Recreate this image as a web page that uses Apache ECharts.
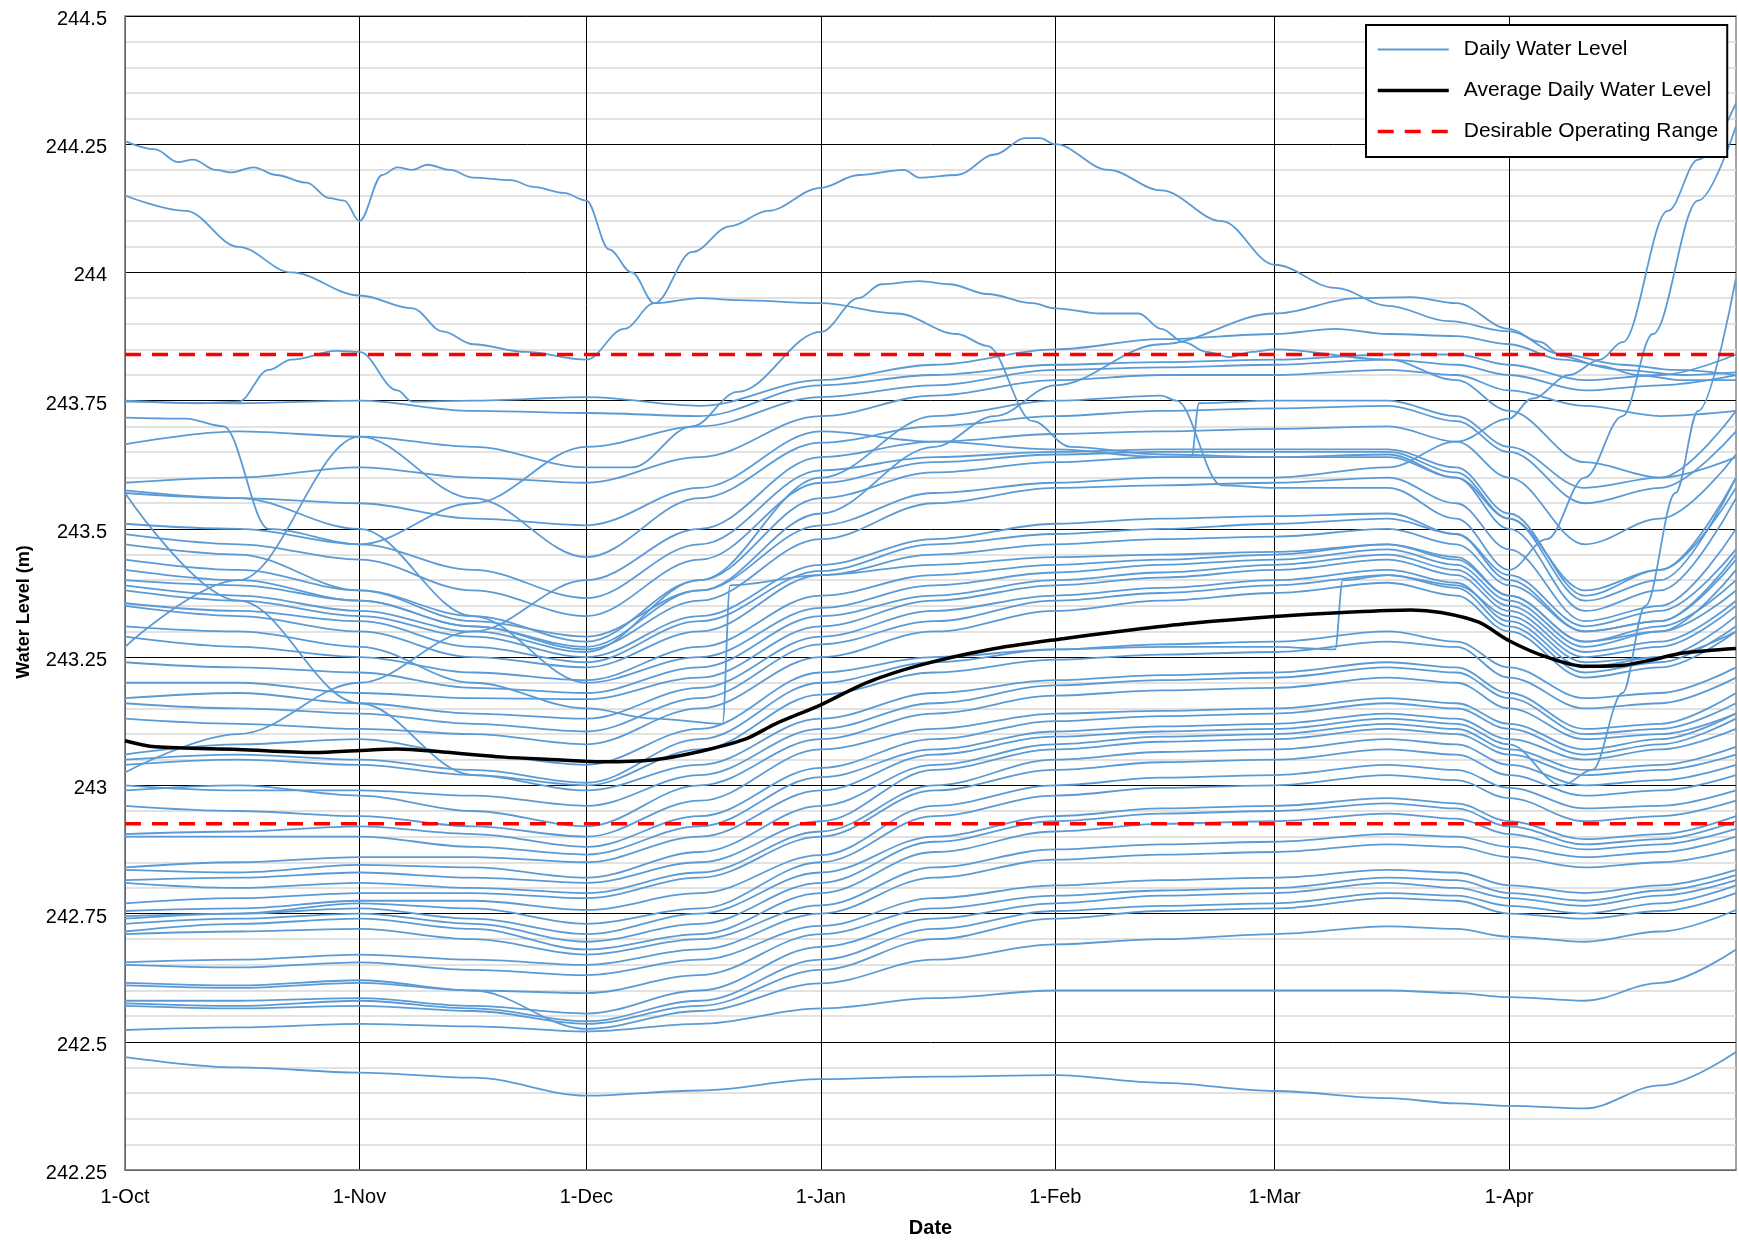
<!DOCTYPE html>
<html>
<head>
<meta charset="utf-8">
<title>Daily Water Level</title>
<script src="https://cdn.jsdelivr.net/npm/echarts@6/dist/echarts.min.js"></script>
<style>
  html, body { margin: 0; padding: 0; background: #fff; }
  #chart { width: 1739px; height: 1243px; }
</style>
</head>
<body>
<div id="chart"></div>
<script>
// Days are counted from 1 October (day 0); the season runs to 1 May (day 213).
const MONTH_STARTS = [0, 31, 61, 92, 123, 152, 183];
const MONTH_LABELS = ['1-Oct', '1-Nov', '1-Dec', '1-Jan', '1-Feb', '1-Mar', '1-Apr'];

// Desirable operating range (m)
const RANGE_UPPER = 243.84;
const RANGE_LOWER = 242.925;

// Sampling days used by the regular daily traces below
const SAMPLE_DAYS = [0, 15, 31, 46, 61, 76, 92, 107, 123, 137, 152, 167, 176, 183, 193, 203, 213];

// Daily water level traces, one per year (values at SAMPLE_DAYS)
const daily01 = [242.47, 242.45, 242.44, 242.43, 242.395, 242.405, 242.427, 242.432, 242.435, 242.42, 242.404, 242.39, 242.38, 242.375, 242.37, 242.415, 242.48];
const daily02 = [242.523, 242.528, 242.535, 242.53, 242.52, 242.535, 242.565, 242.585, 242.6, 242.6, 242.6, 242.6, 242.595, 242.587, 242.58, 242.615, 242.68];
const daily03 = [242.61, 242.605, 242.615, 242.6, 242.525, 242.56, 242.614, 242.66, 242.69, 242.7, 242.71, 242.725, 242.72, 242.705, 242.695, 242.715, 242.757];
const daily04 = [242.57, 242.565, 242.57, 242.56, 242.535, 242.57, 242.64, 242.7, 242.74, 242.755, 242.76, 242.78, 242.775, 242.75, 242.74, 242.755, 242.79];
const daily05 = [242.575, 242.57, 242.58, 242.565, 242.54, 242.58, 242.66, 242.72, 242.755, 242.765, 242.77, 242.79, 242.785, 242.765, 242.75, 242.77, 242.805];
const daily06 = [242.58, 242.58, 242.585, 242.57, 242.555, 242.6, 242.685, 242.74, 242.77, 242.785, 242.79, 242.81, 242.8, 242.78, 242.765, 242.785, 242.815];
const daily07 = [242.615, 242.61, 242.62, 242.6, 242.595, 242.63, 242.71, 242.76, 242.785, 242.795, 242.8, 242.82, 242.815, 242.79, 242.775, 242.795, 242.825];
const daily08 = [242.65, 242.645, 242.655, 242.64, 242.63, 242.66, 242.726, 242.78, 242.805, 242.815, 242.82, 242.835, 242.83, 242.805, 242.79, 242.805, 242.835];
const daily09 = [242.655, 242.66, 242.67, 242.66, 242.65, 242.68, 242.75, 242.82, 242.855, 242.865, 242.87, 242.885, 242.88, 242.86, 242.84, 242.85, 242.875];
const daily10 = [242.71, 242.715, 242.72, 242.7, 242.67, 242.7, 242.766, 242.84, 242.875, 242.885, 242.89, 242.905, 242.9, 242.88, 242.86, 242.87, 242.9];
const daily11 = [242.715, 242.73, 242.74, 242.72, 242.68, 242.71, 242.79, 242.87, 242.91, 242.925, 242.93, 242.945, 242.935, 242.905, 242.875, 242.885, 242.915];
const daily12 = [242.73, 242.74, 242.75, 242.73, 242.695, 242.73, 242.81, 242.89, 242.93, 242.945, 242.95, 242.965, 242.955, 242.92, 242.885, 242.895, 242.93];
const daily13 = [242.74, 242.75, 242.76, 242.74, 242.71, 242.75, 242.83, 242.9, 242.94, 242.955, 242.96, 242.975, 242.965, 242.93, 242.895, 242.905, 242.94];
const daily14 = [242.745, 242.75, 242.77, 242.76, 242.73, 242.76, 242.85, 242.94, 242.98, 242.995, 243.0, 243.02, 243.01, 242.975, 242.93, 242.94, 242.97];
const daily15 = [242.755, 242.76, 242.775, 242.775, 242.757, 242.79, 242.864, 242.96, 243.0, 243.015, 243.02, 243.04, 243.03, 242.995, 242.955, 242.96, 242.99];
const daily16 = [242.77, 242.78, 242.79, 242.79, 242.78, 242.82, 242.9, 242.99, 243.03, 243.045, 243.05, 243.07, 243.06, 243.02, 242.98, 242.99, 243.02];
const daily17 = [242.81, 242.8, 242.81, 242.8, 242.79, 242.83, 242.91, 243.0, 243.05, 243.065, 243.07, 243.09, 243.08, 243.04, 243.0, 243.01, 243.04];
const daily18 = [242.815, 242.82, 242.83, 242.82, 242.81, 242.85, 242.93, 243.03, 243.07, 243.085, 243.09, 243.11, 243.1, 243.06, 243.02, 243.03, 243.06];
const daily19 = [242.835, 242.83, 242.845, 242.84, 242.82, 242.87, 242.96, 243.04, 243.08, 243.095, 243.1, 243.12, 243.11, 243.07, 243.03, 243.04, 243.075];
const daily21 = [242.9, 242.9, 242.9, 242.88, 242.865, 242.92, 243.016, 243.07, 243.105, 243.115, 243.12, 243.14, 243.13, 243.09, 243.05, 243.07, 243.11];
const daily22 = [242.905, 242.91, 242.92, 242.905, 242.88, 242.94, 243.034, 243.09, 243.125, 243.135, 243.14, 243.16, 243.15, 243.11, 243.06, 243.08, 243.13];
const daily23 = [242.96, 242.95, 242.94, 242.92, 242.9, 242.97, 243.07, 243.11, 243.14, 243.145, 243.15, 243.17, 243.16, 243.12, 243.07, 243.09, 243.14];
const daily24 = [242.99, 243.0, 242.98, 242.95, 242.92, 243.0, 243.09, 243.14, 243.175, 243.185, 243.19, 243.21, 243.2, 243.15, 243.09, 243.1, 243.14];
const daily25 = [243.0, 242.99, 242.99, 242.98, 242.96, 243.02, 243.11, 243.16, 243.195, 243.205, 243.21, 243.23, 243.22, 243.17, 243.1, 243.11, 243.16];
const daily26 = [243.57, 243.36, 243.16, 243.02, 242.99, 243.04, 243.13, 243.18, 243.205, 243.215, 243.22, 243.24, 243.23, 243.18, 243.11, 243.12, 243.18];
const daily27 = [243.04, 243.05, 243.04, 243.02, 243.0, 243.07, 243.177, 243.22, 243.245, 243.255, 243.26, 243.28, 243.27, 243.21, 243.15, 243.16, 243.21];
const daily28 = [243.05, 243.06, 243.05, 243.03, 243.005, 243.09, 243.2, 243.24, 243.265, 243.275, 243.28, 243.3, 243.28, 243.23, 243.17, 243.18, 243.23];
const daily30 = [243.13, 243.12, 243.11, 243.1, 243.08, 243.15, 243.25, 243.3, 243.34, 243.36, 243.375, 243.395, 243.37, 243.3, 243.21, 243.23, 243.3];
const daily31 = [243.16, 243.15, 243.14, 243.12, 243.105, 243.17, 243.275, 243.32, 243.36, 243.375, 243.39, 243.41, 243.385, 243.31, 243.22, 243.24, 243.31];
const daily32 = [243.17, 243.18, 243.16, 243.14, 243.13, 243.19, 243.29, 243.34, 243.37, 243.385, 243.4, 243.42, 243.395, 243.32, 243.23, 243.25, 243.33];
const daily33 = [243.2, 243.2, 243.18, 243.17, 243.168, 243.21, 243.31, 243.36, 243.39, 243.405, 243.42, 243.44, 243.41, 243.34, 243.25, 243.27, 243.35];
const daily34 = [243.24, 243.23, 243.22, 243.19, 243.18, 243.23, 243.33, 243.37, 243.4, 243.415, 243.43, 243.45, 243.42, 243.35, 243.26, 243.28, 243.36];
const daily35 = [243.57, 243.56, 243.5, 243.33, 243.2, 243.25, 243.346, 243.39, 243.415, 243.43, 243.44, 243.46, 243.43, 243.36, 243.27, 243.3, 243.38];
const daily36 = [243.29, 243.27, 243.25, 243.22, 243.205, 243.27, 243.37, 243.41, 243.43, 243.44, 243.45, 243.47, 243.44, 243.37, 243.28, 243.31, 243.4];
const daily38 = [243.35, 243.33, 243.3, 243.25, 243.23, 243.3, 243.41, 243.45, 243.47, 243.48, 243.485, 243.5, 243.47, 243.39, 243.3, 243.32, 243.44];
const daily39 = [243.355, 243.34, 243.32, 243.27, 243.24, 243.32, 243.418, 243.47, 243.49, 243.5, 243.51, 243.52, 243.49, 243.41, 243.31, 243.34, 243.46];
const daily40 = [243.38, 243.36, 243.33, 243.29, 243.25, 243.33, 243.43, 243.48, 243.51, 243.52, 243.525, 243.53, 243.49, 243.4, 243.3, 243.32, 243.45];
const daily42 = [243.4, 243.39, 243.36, 243.31, 243.265, 243.36, 243.48, 243.55, 243.58, 243.585, 243.59, 243.6, 243.55, 243.46, 243.32, 243.35, 243.5];
const daily44 = [243.44, 243.42, 243.38, 243.33, 243.28, 243.4, 243.56, 243.61, 243.63, 243.64, 243.64, 243.64, 243.6, 243.5, 243.34, 243.38, 243.56];
const daily45 = [243.49, 243.47, 243.44, 243.38, 243.33, 243.44, 243.59, 243.63, 243.645, 243.65, 243.65, 243.65, 243.61, 243.52, 243.36, 243.4, 243.6];
const daily46 = [243.51, 243.5, 243.47, 243.42, 243.365, 243.47, 243.614, 243.64, 243.65, 243.655, 243.655, 243.655, 243.62, 243.53, 243.37, 243.42, 243.6];
const daily47 = [243.025, 243.1, 243.2, 243.3, 243.4, 243.5, 243.64, 243.67, 243.685, 243.69, 243.695, 243.7, 243.67, 243.6, 243.47, 243.52, 243.645];
const daily48 = [243.27, 243.4, 243.68, 243.56, 243.445, 243.56, 243.668, 243.7, 243.72, 243.73, 243.735, 243.74, 243.71, 243.65, 243.55, 243.58, 243.69];
const daily50 = [243.59, 243.6, 243.62, 243.6, 243.59, 243.64, 243.72, 243.76, 243.79, 243.8, 243.8, 243.81, 243.8, 243.77, 243.74, 243.72, 243.73];
const daily52 = [243.748, 243.745, 243.75, 243.73, 243.726, 243.72, 243.78, 243.8, 243.82, 243.825, 243.83, 243.84, 243.84, 243.82, 243.79, 243.8, 243.84];

// Traces with their own sampling days: [day, level]
const daily20 = [[0, 242.84], [15, 242.85], [31, 242.86], [46, 242.86], [61, 242.85], [76, 242.9], [92, 242.99], [107, 243.06], [123, 243.095], [137, 243.105], [152, 243.11], [167, 243.13], [176, 243.12], [183, 243.08], [190, 243.0], [194, 243.03], [198, 243.18], [201, 243.35], [205, 243.57], [208, 243.73], [213, 243.99]];
const daily29 = [[0, 243.06], [15, 243.08], [31, 243.09], [46, 243.06], [61, 243.04], [76, 243.11], [92, 243.22], [107, 243.25], [123, 243.265], [137, 243.27], [152, 243.27], [160, 243.265], [161, 243.4], [167, 243.41], [176, 243.39], [183, 243.33], [193, 243.24], [203, 243.25], [213, 243.3]];
const daily37 = [[0, 243.31], [15, 243.3], [31, 243.27], [46, 243.2], [61, 243.15], [70, 243.13], [79, 243.12], [80, 243.39], [92, 243.41], [107, 243.43], [123, 243.445], [137, 243.45], [152, 243.455], [167, 243.47], [176, 243.445], [183, 243.37], [193, 243.28], [203, 243.3], [213, 243.42]];
const daily41 = [[0, 243.39], [15, 243.37], [31, 243.34], [46, 243.3], [61, 243.26], [76, 243.4], [92, 243.6], [107, 243.72], [123, 243.75], [137, 243.76], [139, 243.75], [145, 243.585], [152, 243.58], [167, 243.58], [176, 243.52], [183, 243.42], [188, 243.48], [193, 243.6], [198, 243.72], [202, 243.88], [208, 244.14], [213, 244.285]];
const daily43 = [[0, 243.42], [15, 243.4], [31, 243.36], [46, 243.31], [61, 243.27], [76, 243.38], [92, 243.507], [107, 243.57], [123, 243.59], [137, 243.6], [152, 243.6], [167, 243.62], [176, 243.67], [183, 243.715], [186, 243.754], [191, 243.8], [195, 243.83], [198, 243.864], [204, 244.12], [208, 244.22], [213, 244.33]];
const daily49 = [[0, 243.575], [15, 243.56], [31, 243.55], [46, 243.52], [61, 243.507], [76, 243.58], [92, 243.69], [107, 243.67], [123, 243.655], [137, 243.64], [141, 243.64], [142, 243.745], [152, 243.75], [167, 243.75], [176, 243.72], [183, 243.66], [193, 243.58], [203, 243.6], [213, 243.73]];
const daily51 = [[0, 243.717], [8, 243.715], [13, 243.7], [19, 243.5], [31, 243.47], [46, 243.55], [61, 243.66], [76, 243.7], [92, 243.757], [107, 243.78], [123, 243.81], [137, 243.815], [152, 243.82], [167, 243.83], [176, 243.82], [183, 243.8], [193, 243.77], [203, 243.78], [213, 243.8]];
const daily53 = [[0, 243.75], [10, 243.745], [15, 243.748], [19, 243.81], [22, 243.83], [28, 243.847], [31, 243.845], [36, 243.77], [38, 243.748], [46, 243.75], [61, 243.757], [76, 243.74], [92, 243.79], [107, 243.82], [123, 243.85], [137, 243.87], [152, 243.88], [160, 243.89], [167, 243.88], [176, 243.876], [183, 243.86], [190, 243.83], [198, 243.81], [206, 243.8], [213, 243.805]];
const daily54 = [[0, 244.256], [4, 244.24], [7, 244.215], [9, 244.22], [12, 244.2], [14, 244.195], [17, 244.205], [20, 244.19], [24, 244.175], [27, 244.145], [29, 244.14], [31, 244.1], [34, 244.19], [36, 244.205], [38, 244.2], [40, 244.21], [43, 244.2], [46, 244.185], [51, 244.18], [54, 244.167], [58, 244.155], [61, 244.14], [64, 244.045], [67, 244.0], [70, 243.94], [75, 244.04], [80, 244.09], [85, 244.12], [92, 244.165], [97, 244.19], [103, 244.2], [105, 244.185], [110, 244.19], [115, 244.23], [119, 244.262], [121, 244.262], [123, 244.25], [130, 244.2], [137, 244.16], [145, 244.1], [152, 244.015], [160, 243.97], [167, 243.935], [175, 243.905], [183, 243.885], [190, 243.84], [198, 243.82], [205, 243.81], [213, 243.8]];
const daily55 = [[0, 244.15], [8, 244.12], [15, 244.05], [22, 244.0], [31, 243.955], [38, 243.93], [42, 243.885], [46, 243.86], [53, 243.845], [61, 243.83], [66, 243.89], [70, 243.94], [76, 243.95], [81, 243.946], [92, 243.94], [102, 243.92], [110, 243.88], [114, 243.857], [120, 243.71], [125, 243.66], [137, 243.645], [152, 243.64], [167, 243.645], [176, 243.6], [183, 243.52], [193, 243.38], [203, 243.42], [213, 243.58]];
const daily56 = [[0, 243.665], [15, 243.69], [31, 243.68], [46, 243.66], [61, 243.62], [67, 243.62], [75, 243.7], [81, 243.767], [92, 243.884], [97, 243.95], [100, 243.977], [105, 243.983], [109, 243.977], [114, 243.958], [120, 243.94], [123, 243.93], [129, 243.92], [134, 243.92], [137, 243.89], [140, 243.864], [143, 243.845], [146, 243.835], [149, 243.845], [152, 243.85], [167, 243.83], [176, 243.79], [183, 243.73], [193, 243.63], [203, 243.6], [213, 243.64]];
const daily57 = [[0, 243.47], [15, 243.45], [31, 243.38], [46, 243.32], [61, 243.29], [76, 243.38], [92, 243.53], [107, 243.66], [115, 243.72], [123, 243.78], [137, 243.86], [152, 243.92], [163, 243.95], [170, 243.952], [176, 243.94], [183, 243.89], [187, 243.865], [190, 243.837], [195, 243.818], [200, 243.8], [206, 243.79], [213, 243.79]];

// Average of all years
const averageLevel = [[0, 243.087], [4, 243.075], [15, 243.07], [25, 243.064], [31, 243.068], [36, 243.071], [42, 243.065], [50, 243.055], [57, 243.05], [63, 243.046], [70, 243.05], [76, 243.066], [82, 243.09], [86, 243.12], [92, 243.157], [98, 243.2], [105, 243.234], [114, 243.264], [124, 243.286], [133, 243.303], [141, 243.316], [152, 243.329], [161, 243.337], [170, 243.342], [174, 243.337], [179, 243.318], [183, 243.282], [188, 243.25], [193, 243.232], [198, 243.234], [202, 243.245], [206, 243.258], [213, 243.267]];

const dailyTraces = [
  daily01, daily02, daily03, daily04, daily05, daily06, daily07, daily08, daily09, daily10,
  daily11, daily12, daily13, daily14, daily15, daily16, daily17, daily18, daily19, daily20,
  daily21, daily22, daily23, daily24, daily25, daily26, daily27, daily28, daily29, daily30,
  daily31, daily32, daily33, daily34, daily35, daily36, daily37, daily38, daily39, daily40,
  daily41, daily42, daily43, daily44, daily45, daily46, daily47, daily48, daily49, daily50,
  daily51, daily52, daily53, daily54, daily55, daily56, daily57
];

// Pair plain value lists with the shared sampling days
function toPoints(trace) {
  return Array.isArray(trace[0]) ? trace : trace.map((v, i) => [SAMPLE_DAYS[i], v]);
}

const FONT = "'Liberation Sans', Arial, sans-serif";
const BLUE = '#5b9bd5';
const DAILY = 'Daily Water Level';
const AVG = 'Average Daily Water Level';
const RANGE = 'Desirable Operating Range';

const series = dailyTraces.map(t => ({
  type: 'line',
  name: DAILY,
  data: toPoints(t),
  symbol: 'none',
  smooth: 0.35,
  smoothMonotone: 'x',
  silent: true,
  z: 2,
  lineStyle: { color: BLUE, width: 1.8 },
  itemStyle: { color: BLUE }
}));

[RANGE_UPPER, RANGE_LOWER].forEach(level => {
  series.push({
    type: 'line',
    name: RANGE,
    data: [[0, level], [213, level]],
    symbol: 'none',
    silent: true,
    z: 3,
    lineStyle: { color: '#ff0000', width: 3.5, type: [16, 11] },
    itemStyle: { color: '#ff0000' }
  });
});

series.push({
  type: 'line',
  name: AVG,
  data: averageLevel,
  symbol: 'none',
  smooth: 0.3,
  silent: true,
  z: 4,
  lineStyle: { color: '#000000', width: 3.5 },
  itemStyle: { color: '#000000' }
});

const chart = echarts.init(document.getElementById('chart'), null, { renderer: 'canvas' });
chart.setOption({
  animation: false,
  backgroundColor: '#ffffff',
  textStyle: { fontFamily: FONT },
  grid: {
    left: 125, right: 3, top: 16, bottom: 70,
    show: true, borderColor: '#868686', borderWidth: 1.5, backgroundColor: 'transparent'
  },
  legend: {
    data: [DAILY, AVG, RANGE],
    orient: 'vertical',
    left: 1366, top: 25,
    itemWidth: 71, itemHeight: 14, itemGap: 20,
    padding: [14, 9, 15, 10],
    backgroundColor: '#ffffff',
    borderColor: '#000000', borderWidth: 2,
    selectedMode: false,
    itemStyle: { opacity: 0 },
    lineStyle: { width: 'inherit' },
    textStyle: { fontFamily: FONT, fontSize: 21, color: '#000', padding: [0, 0, 0, 10] }
  },
  graphic: [{
    type: 'text',
    x: 24, y: 612,
    rotation: Math.PI / 2,
    style: {
      text: 'Water Level (m)',
      font: "bold 18px 'Liberation Sans', Arial, sans-serif",
      fill: '#000',
      align: 'center',
      verticalAlign: 'middle'
    }
  }],
  xAxis: {
    type: 'value',
    min: 0, max: 213,
    name: 'Date',
    nameLocation: 'middle',
    nameGap: 48,
    nameTextStyle: { fontFamily: FONT, fontSize: 20, fontWeight: 'bold', color: '#000' },
    axisLine: { show: true, lineStyle: { color: '#868686', width: 1.5 } },
    axisTick: { show: false, customValues: MONTH_STARTS },
    axisLabel: {
      customValues: MONTH_STARTS,
      formatter: v => MONTH_LABELS[MONTH_STARTS.indexOf(v)],
      fontFamily: FONT, fontSize: 20, color: '#000', margin: 17
    },
    splitLine: { show: true, lineStyle: { color: '#000', width: 1 } }
  },
  yAxis: {
    type: 'value',
    min: 242.25, max: 244.5, interval: 0.25,
    axisLine: { show: true, lineStyle: { color: '#868686', width: 1.5 } },
    axisTick: { show: false },
    minorTick: { show: false, splitNumber: 5 },
    minorSplitLine: { show: true, lineStyle: { color: '#d9d9d9', width: 1.5 } },
    splitLine: { show: true, lineStyle: { color: '#000', width: 1 } },
    axisLabel: {
      formatter: v => '{v|' + String(+v.toFixed(2)) + '}',
      rich: {
        v: { fontFamily: FONT, fontSize: 20, color: '#000', padding: [7, 0, 0, 0] }
      },
      margin: 18
    }
  },
  series: series
});
</script>
</body>
</html>
